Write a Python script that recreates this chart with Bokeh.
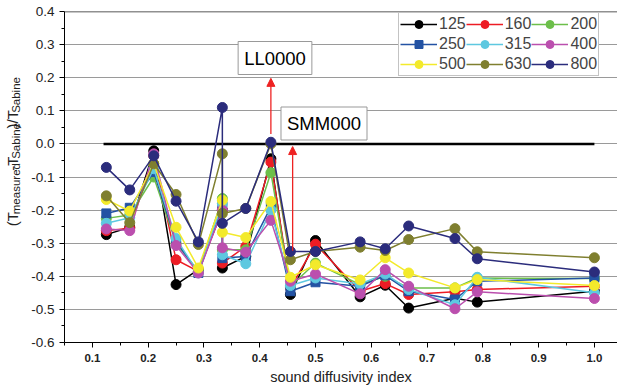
import math
from bokeh.plotting import figure
from bokeh.layouts import row
from bokeh.core.properties import value
from bokeh.models import (Range1d, FixedTicker, NumeralTickFormatter, Label, Arrow,
                          NormalHead, Legend, LegendItem, Span, Title)
from bokeh.embed import file_html
from bokeh.resources import INLINE

# ---------------- data ----------------
sdi = [0.125, 0.167, 0.21, 0.25, 0.29, 0.333, 0.333, 0.375, 0.42, 0.455,
       0.5, 0.58, 0.625, 0.667, 0.75, 0.79, 1.0]

freqs = ["125", "160", "200", "250", "315", "400", "500", "630", "800"]

y125 = [-0.274, -0.252, -0.021, -0.425, -0.380, -0.200, -0.375, -0.340, -0.045, -0.455,
        -0.292, -0.462, -0.427, -0.496, -0.466, -0.478, -0.445]
y160 = [-0.262, -0.255, -0.035, -0.350, -0.385, -0.200, -0.360, -0.310, -0.055, -0.435,
        -0.303, -0.445, -0.422, -0.455, -0.447, -0.440, -0.430]
y200 = [-0.225, -0.215, -0.100, -0.300, -0.385, -0.165, -0.320, -0.320, -0.087, -0.430,
        -0.360, -0.425, -0.400, -0.435, -0.435, -0.405, -0.407]
y250 = [-0.210, -0.193, -0.085, -0.294, -0.390, -0.190, -0.345, -0.340, -0.190, -0.445,
        -0.418, -0.430, -0.397, -0.445, -0.470, -0.415, -0.405]
y315 = [-0.240, -0.223, -0.075, -0.286, -0.390, -0.180, -0.335, -0.362, -0.200, -0.428,
        -0.405, -0.423, -0.393, -0.440, -0.486, -0.403, -0.450]
y400 = [-0.257, -0.262, -0.030, -0.307, -0.390, -0.200, -0.314, -0.327, -0.231, -0.415,
        -0.393, -0.453, -0.380, -0.430, -0.498, -0.447, -0.467]
y500 = [-0.168, -0.203, -0.060, -0.252, -0.375, -0.170, -0.267, -0.283, -0.174, -0.403,
        -0.365, -0.411, -0.344, -0.390, -0.435, -0.410, -0.428]
y630 = [-0.157, -0.238, -0.060, -0.153, -0.304, -0.030, -0.210, -0.195, 0.000, -0.350,
        -0.325, -0.312, -0.322, -0.289, -0.256, -0.326, -0.344]
y800 = [-0.071, -0.139, -0.036, -0.173, -0.296, 0.110, -0.240, -0.195, 0.005, -0.325,
        -0.325, -0.296, -0.317, -0.248, -0.286, -0.347, -0.387]

series = [y125, y160, y200, y250, y315, y400, y500, y630, y800]
colors = ["#000000", "#ed1c24", "#6cbf4a", "#2352a3", "#5ec8e0",
          "#bb4fae", "#f3ea2b", "#7f7f2f", "#2b2c7c"]
markers = ["circle", "circle", "circle", "square", "circle",
           "circle", "circle", "circle", "circle"]

zero_line_x = [0.12, 1.0]
zero_line_y = [0.0, 0.0]

y_ticks = [round(-0.6 + 0.1 * i, 2) for i in range(11)]
y_minor = [round(-0.55 + 0.1 * i, 2) for i in range(10)]
x_ticks = [round(0.1 * i, 2) for i in range(1, 11)]
x_minor = [round(0.05 + 0.1 * i, 2) for i in range(11)]

x_title = "sound diffusivity index"
y_title_parts = ["(T", "measured", "-T", "Sabine", ")/T", "Sabine"]
y_title_is_sub = [False, True, False, True, False, True]

FONT = "Liberation Sans"

# ---------------- layout geometry ----------------
W, H = 617, 390
LW = 26                 # width of the side strip holding the y title
LEFT, TOP, BOTTOM = 64, 11, 48
X0, X1 = 0.05, 1.0414
Y0, Y1 = -0.6, 0.4

p = figure(width=W - LW, height=H, output_backend="svg", toolbar_location=None,
           x_range=Range1d(X0, X1), y_range=Range1d(Y0, Y1),
           min_border_left=LEFT - LW, min_border_right=0, min_border_top=TOP,
           min_border_bottom=BOTTOM)
p.outline_line_color = None
p.background_fill_color = "white"
p.border_fill_color = "white"

fw = W - LEFT
fh = H - TOP - BOTTOM


def px2x(px):
    return X0 + (px - LEFT) / fw * (X1 - X0)


def py2y(py):
    return Y1 - (py - TOP) / fh * (Y1 - Y0)


# axes
for ax in (p.xaxis[0], p.yaxis[0]):
    ax.axis_line_color = "black"
    ax.axis_line_width = 1
    ax.major_tick_line_color = "black"
    ax.minor_tick_line_color = "black"
    ax.major_tick_out = 5
    ax.major_tick_in = 0
    ax.minor_tick_out = 3
    ax.minor_tick_in = 0
    ax.major_label_text_font = FONT
    ax.major_label_text_color = "#222222"

p.xaxis.ticker = FixedTicker(ticks=x_ticks, minor_ticks=x_minor)
p.yaxis.ticker = FixedTicker(ticks=y_ticks, minor_ticks=y_minor)
p.xaxis.formatter = NumeralTickFormatter(format="0.0")
p.yaxis.formatter = NumeralTickFormatter(format="0.0")
p.xaxis.major_label_text_font_size = "11.5px"
p.xaxis.major_label_text_font_style = "bold"
p.yaxis.major_label_text_font_size = "13.5px"
p.xaxis.major_label_standoff = 6
p.yaxis.major_label_standoff = 5

p.add_layout(Title(text=x_title, align="center", offset=-24.5, standoff=4,
                   text_font=FONT, text_font_size="14.5px", text_font_style="normal",
                   text_color="#222222"), "below")

p.xgrid.visible = False
p.ygrid.grid_line_color = "#9a9a9a"
p.ygrid.grid_line_width = 1

p.add_layout(Span(location=Y1, dimension="width", line_color="#222222", line_width=1.5))

# zero reference line
p.line(zero_line_x, zero_line_y, line_color="black", line_width=2.5)

# series
items = []
for name, ys, c, m in zip(freqs, series, colors, markers):
    r1 = p.line(sdi, ys, line_color=c, line_width=1.5)
    r2 = p.scatter(sdi, ys, marker=m, size=10 if m == "circle" else 9,
                   fill_color=c, line_color=c)
    items.append(LegendItem(label=name, renderers=[r1, r2]))

legend = Legend(items=items, orientation="horizontal", ncols=3,
                location=(334, 266),
                label_text_font=FONT, label_text_font_size="16px",
                glyph_width=37, glyph_height=20, label_height=20,
                label_standoff=2, spacing=0, padding=1, margin=0,
                border_line_color="#888888", border_line_width=1,
                background_fill_color="white", background_fill_alpha=1.0)
p.add_layout(legend)

# annotations
p.add_layout(Arrow(end=NormalHead(size=8, fill_color="#ee2222", line_color="#ee2222"),
                   x_start=0.42, y_start=0.03, x_end=0.42, y_end=0.198,
                   line_color="#ee2222", line_width=1.3))
p.add_layout(Arrow(end=NormalHead(size=8, fill_color="#ee2222", line_color="#ee2222"),
                   x_start=0.459, y_start=-0.323, x_end=0.459, y_end=-0.008,
                   line_color="#ee2222", line_width=1.3))

for txt, cx, cy in [("LL0000", px2x(274.5), py2y(57.5)), ("SMM000", px2x(323.5), py2y(123))]:
    p.add_layout(Label(x=cx, y=cy, text=txt, text_align="center", text_baseline="middle",
                       text_font=FONT, text_font_size="18.5px", text_color="black",
                       background_fill_color="white", border_line_color="#999999",
                       border_line_width=1, padding=6))

# ---------------- side strip with the rotated y title ----------------
side = figure(width=LW, height=H, output_backend="svg", toolbar_location=None,
              x_range=Range1d(0, LW), y_range=Range1d(0, H),
              x_axis_type=None, y_axis_type=None,
              min_border_left=0, min_border_right=0, min_border_top=0,
              min_border_bottom=0)
side.outline_line_color = None
side.xgrid.visible = False
side.ygrid.visible = False
side.background_fill_color = "white"
side.border_fill_color = "white"

AW = {'(': 0.333, ')': 0.333, 'T': 0.611, '-': 0.333, '/': 0.278, 'm': 0.833,
      'e': 0.556, 'a': 0.556, 's': 0.5, 'u': 0.556, 'r': 0.333, 'd': 0.556,
      'S': 0.667, 'b': 0.556, 'i': 0.222, 'n': 0.556}
MAIN_FS, SUB_FS = 15.0, 11.5
MAIN_BX, SUB_BX = 12.0, 15.5
pos = 253.0
main_x, main_y, main_t = [], [], []
sub_x, sub_y, sub_t = [], [], []
for txt, is_sub in zip(y_title_parts, y_title_is_sub):
    fs = SUB_FS if is_sub else MAIN_FS
    if is_sub:
        sub_x.append(SUB_BX); sub_y.append(H - pos); sub_t.append(txt)
    else:
        main_x.append(MAIN_BX); main_y.append(H - pos); main_t.append(txt)
    pos -= sum(AW[ch] for ch in txt) * fs

side.text(x=main_x, y=main_y, text=main_t, angle=math.pi / 2, text_align="left",
          text_baseline="alphabetic", text_font=value(FONT),
          text_font_size=value(f"{MAIN_FS}px"), text_color="#222222")
side.text(x=sub_x, y=sub_y, text=sub_t, angle=math.pi / 2, text_align="left",
          text_baseline="alphabetic", text_font=value(FONT),
          text_font_size=value(f"{SUB_FS}px"), text_color="#222222")

layout = row(side, p, spacing=0)
open("out.html", "w").write(file_html(layout, INLINE))
